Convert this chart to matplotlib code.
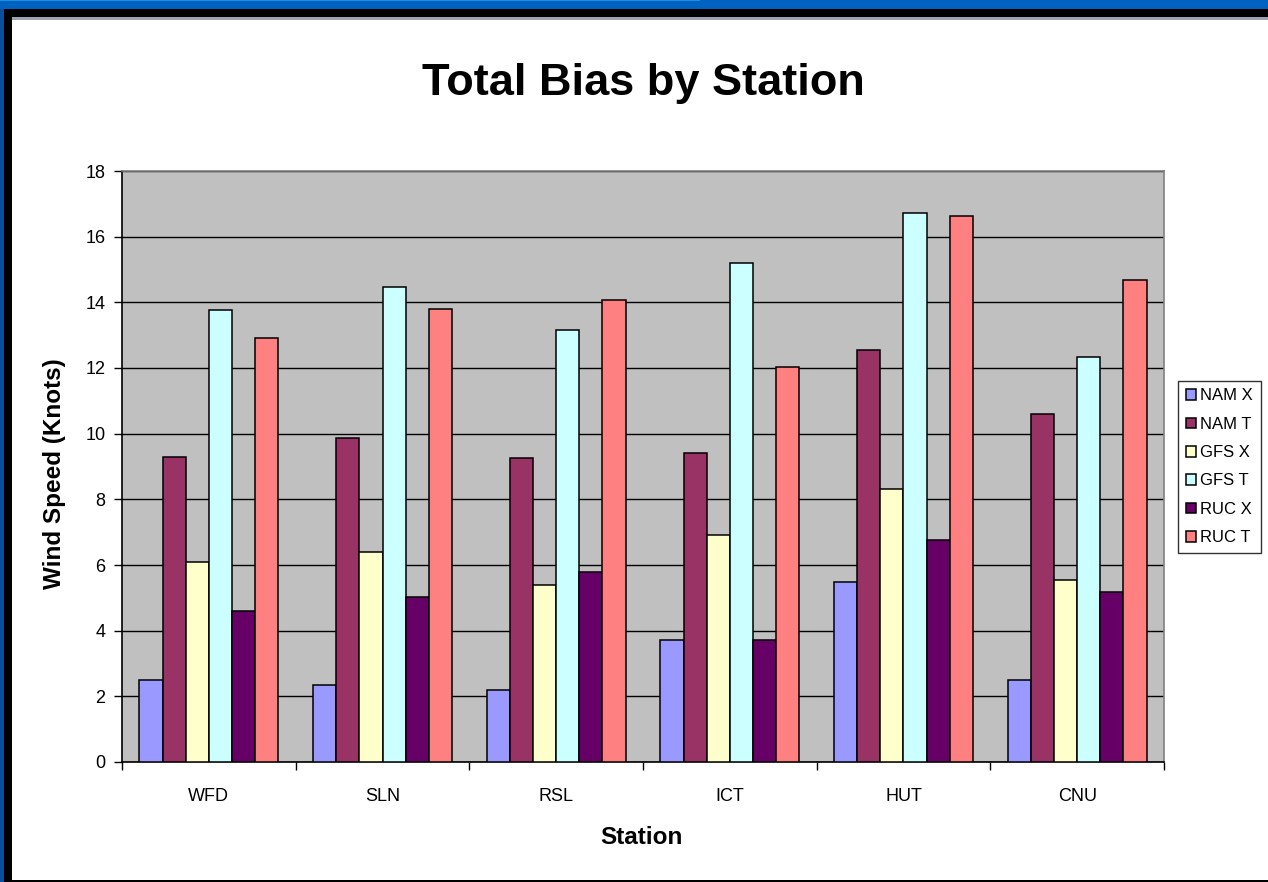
import numpy as np
import matplotlib
matplotlib.use("Agg")
import matplotlib.pyplot as plt
from matplotlib.patches import Rectangle

# station categories and model bias (knots)
stations = ["WFD", "SLN", "RSL", "ICT", "HUT", "CNU"]
series_names = ["NAM X", "NAM T", "GFS X", "GFS T", "RUC X", "RUC T"]

nam_x = [2.50, 2.35, 2.20, 3.72, 5.49, 2.50]
nam_t = [9.30, 9.87, 9.25, 9.41, 12.54, 10.61]
gfs_x = [6.10, 6.41, 5.38, 6.90, 8.30, 5.53]
gfs_t = [13.76, 14.48, 13.17, 15.21, 16.73, 12.32]
ruc_x = [4.59, 5.02, 5.80, 3.72, 6.75, 5.17]
ruc_t = [12.91, 13.80, 14.08, 12.03, 16.64, 14.69]

series = [nam_x, nam_t, gfs_x, gfs_t, ruc_x, ruc_t]
colors = ["#9999FF", "#993366", "#FFFFCC", "#CCFFFF", "#660066", "#FF8080"]

plt.rcParams['font.family'] = ['Liberation Sans', 'DejaVu Sans']

W, H = 1268, 882
fig = plt.figure(figsize=(W / 100, H / 100), dpi=100)
fig.patch.set_facecolor("white")

# window frame around the chart
def px_rect(x0, y0, x1, y1, color):
    fig.add_artist(Rectangle((x0 / W, 1 - y1 / H), (x1 - x0) / W, (y1 - y0) / H,
                             transform=fig.transFigure, facecolor=color,
                             edgecolor="none", zorder=-5))

px_rect(0, 0, W, 9, "#0062C0")
px_rect(0, 0, 700, 1, "#1E90E0")
px_rect(0, 9, W, 17, "black")
px_rect(12, 17, W, 20, "#9AA2B4")
px_rect(0, 9, 4, H, "#0A4E9C")
px_rect(4, 9, 12, H, "black")
px_rect(4, 880, W, H, "black")

ax = fig.add_axes([122 / W, 1 - 762 / H, (1164 - 122) / W, (762 - 171) / H])
ax.set_facecolor("#C0C0C0")

x = np.arange(len(stations))
bw = 1 / 7.5
for i, (vals, name, col) in enumerate(zip(series, series_names, colors)):
    ax.bar(x + (i - 2.5) * bw, vals, width=bw, color=col, edgecolor="black",
           linewidth=1.1, label=name, zorder=3)

ax.set_xlim(-0.5, len(stations) - 0.5)
ax.set_ylim(0, 18)
ax.set_yticks(np.arange(0, 19, 2))
ax.yaxis.grid(True, color="black", linewidth=1.0, zorder=1)
ax.set_axisbelow(True)

ax.set_xticks(x)
ax.set_xticklabels(stations)
ax.set_xticks(np.arange(-0.5, len(stations), 1), minor=True)
ax.tick_params(axis="x", which="major", length=0, pad=19, labelsize=13)
ax.tick_params(axis="x", which="minor", length=6, width=1, direction="out")
ax.tick_params(axis="y", length=6, width=1, direction="out", pad=6, labelsize=13)

for s in ["top", "right"]:
    ax.spines[s].set_color("#808080")
    ax.spines[s].set_linewidth(1.2)
for s in ["left", "bottom"]:
    ax.spines[s].set_color("black")
    ax.spines[s].set_linewidth(1.2)

fig.text(643 / W, 1 - 84 / H, "Total Bias by Station", ha="center", va="center",
         fontsize=32.5, fontweight="bold")
fig.text(641 / W, 1 - 838 / H, "Station", ha="center", va="center",
         fontsize=17.5, fontweight="bold")
fig.text(55 / W, 1 - 474 / H, "Wind Speed (Knots)", ha="center", va="center",
         rotation=90, fontsize=17.5, fontweight="bold")

leg = ax.legend(loc="upper left", bbox_to_anchor=(1178 / W, 1 - 381 / H),
                bbox_transform=fig.transFigure, borderaxespad=0,
                fontsize=12, frameon=True, fancybox=False, edgecolor="black",
                handlelength=0.6, handleheight=0.6, handletextpad=0.3,
                labelspacing=0.8, borderpad=0.45)
leg.get_frame().set_linewidth(1.0)

fig.savefig("out.png", dpi=100)
